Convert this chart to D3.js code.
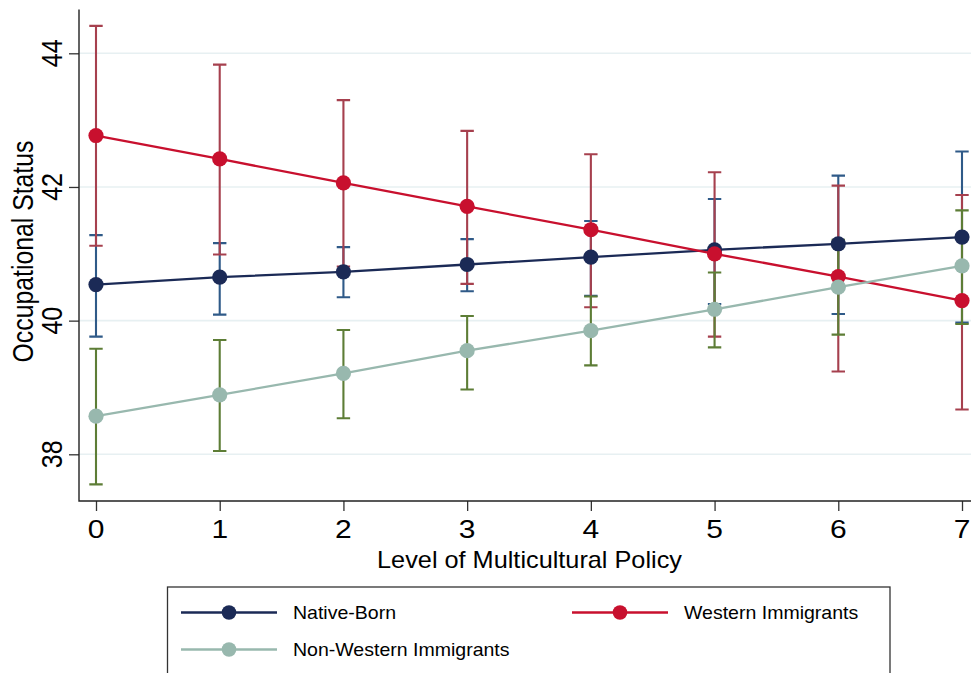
<!DOCTYPE html>
<html>
<head>
<meta charset="utf-8">
<script src="https://cdn.jsdelivr.net/npm/d3@7"></script>
<style>
  html, body { margin: 0; padding: 0; background: #ffffff; }
  svg { display: block; }
  text { font-family: "Liberation Sans", Arimo, Helvetica, Arial, sans-serif; fill: #000; }
</style>
</head>
<body>
<div id="chart"></div>
<script>
// ---- Data ----
const levels = [0, 1, 2, 3, 4, 5, 6, 7];
const xTickLabels = ["0", "1", "2", "3", "4", "5", "6", "7"];
const yTickValues = [38, 40, 42, 44];

const nativeMean = [40.54, 40.65, 40.73, 40.84, 40.95, 41.06, 41.15, 41.25];
const nativeLow  = [39.76, 40.09, 40.35, 40.44, 40.37, 40.25, 40.10, 39.97];
const nativeHigh = [41.28, 41.16, 41.10, 41.22, 41.49, 41.82, 42.17, 42.53];

const westernMean = [42.77, 42.42, 42.06, 41.71, 41.36, 41.00, 40.66, 40.30];
const westernLow  = [41.12, 40.99, 40.81, 40.55, 40.20, 39.76, 39.24, 38.67];
const westernHigh = [44.41, 43.83, 43.30, 42.84, 42.49, 42.22, 42.02, 41.88];

const nonWesternMean = [38.57, 38.89, 39.21, 39.55, 39.85, 40.17, 40.50, 40.82];
const nonWesternLow  = [37.55, 38.05, 38.54, 38.97, 39.33, 39.60, 39.79, 39.95];
const nonWesternHigh = [39.58, 39.71, 39.86, 40.07, 40.36, 40.72, 41.21, 41.65];

const seriesNames = ["Native-Born", "Western Immigrants", "Non-Western Immigrants"];

// ---- Styling ----
const W = 971, H = 673;
const lineColors = ["#1b2a56", "#c8102e", "#98b8ae"];
const ciColors   = ["#2f5a88", "#a6404e", "#5d7d36"];

const series = seriesNames.map((name, i) => ({
  name,
  line: lineColors[i],
  ci: ciColors[i],
  values: levels.map((lv, j) => ({
    x: lv,
    mean: [nativeMean, westernMean, nonWesternMean][i][j],
    lo: [nativeLow, westernLow, nonWesternLow][i][j],
    hi: [nativeHigh, westernHigh, nonWesternHigh][i][j]
  }))
}));

const svg = d3.select("#chart").append("svg")
  .attr("width", W).attr("height", H);

const x = d3.scaleLinear().domain([0, 7]).range([96, 962]);
const y = d3.scaleLinear().domain([38, 44]).range([454.3, 53.3]);

const plotLeft = 79, plotRight = 971, plotTop = 9.5, plotBottom = 501;

// gridlines
svg.append("g").selectAll("line").data(yTickValues).join("line")
  .attr("x1", plotLeft).attr("x2", plotRight)
  .attr("y1", d => y(d)).attr("y2", d => y(d))
  .attr("stroke", "#e7f0f2").attr("stroke-width", 1.6);

// axes (ticks from d3 axis)
const yAxis = svg.append("g").attr("transform", `translate(${plotLeft},0)`)
  .call(d3.axisLeft(y).tickValues(yTickValues).tickSize(10).tickFormat(""));
yAxis.select(".domain").remove();
yAxis.selectAll(".tick line").attr("stroke", "#333").attr("stroke-width", 1.3);

const xAxis = svg.append("g").attr("transform", `translate(0,${plotBottom})`)
  .call(d3.axisBottom(x).tickValues(levels).tickSize(10).tickFormat(""));
xAxis.select(".domain").remove();
xAxis.selectAll(".tick line").attr("stroke", "#333").attr("stroke-width", 1.3);

svg.append("path")
  .attr("d", `M${plotLeft},${plotTop}V${plotBottom}H${plotRight}`)
  .attr("fill", "none").attr("stroke", "#222").attr("stroke-width", 1.4);

// y tick labels (rotated)
svg.append("g").selectAll("text").data(yTickValues).join("text")
  .attr("transform", d => `translate(61.5,${y(d)}) rotate(-90) scale(1,1.2)`)
  .attr("text-anchor", "middle")
  .style("font-size", "25px")
  .text(d => d);

// x tick labels
svg.append("g").selectAll("text").data(levels).join("text")
  .attr("transform", d => `translate(${x(d)},538.3) scale(1.2,1)`)
  .attr("text-anchor", "middle")
  .style("font-size", "25px")
  .text((d, i) => xTickLabels[i]);

// axis titles
svg.append("text")
  .attr("transform", `translate(529.5,568) scale(1.1,1)`)
  .attr("text-anchor", "middle")
  .style("font-size", "23px")
  .text("Level of Multicultural Policy");

svg.append("text")
  .attr("transform", `translate(32.5,251.5) rotate(-90) scale(1,1.2)`)
  .attr("text-anchor", "middle")
  .style("font-size", "24.8px")
  .text("Occupational Status");

// confidence intervals (all series first)
const capHalf = 6.7;
series.forEach(s => {
  const g = svg.append("g").attr("stroke", s.ci).attr("stroke-width", 2.1).attr("fill", "none");
  g.selectAll("path").data(s.values).join("path")
    .attr("d", d => {
      const cx = x(d.x), yl = y(d.lo), yh = y(d.hi);
      return `M${cx},${yh}V${yl}M${cx - capHalf},${yh}H${cx + capHalf}M${cx - capHalf},${yl}H${cx + capHalf}`;
    });
});

// connected lines + markers
const lineGen = d3.line().x(d => x(d.x)).y(d => y(d.mean));
series.forEach(s => {
  svg.append("path").datum(s.values)
    .attr("d", lineGen)
    .attr("fill", "none").attr("stroke", s.line).attr("stroke-width", 2.3);
  svg.append("g").selectAll("circle").data(s.values).join("circle")
    .attr("cx", d => x(d.x)).attr("cy", d => y(d.mean)).attr("r", 7.6)
    .attr("fill", s.line);
});

// legend
const legend = svg.append("g");
legend.append("rect")
  .attr("x", 167.5).attr("y", 587).attr("width", 722.5).attr("height", 100)
  .attr("fill", "#fff").attr("stroke", "#333").attr("stroke-width", 1.3);

const legendItems = [
  { s: series[0], lx: 181, ly: 612.5 },
  { s: series[1], lx: 572, ly: 612.5 },
  { s: series[2], lx: 181, ly: 649.5 }
];
legendItems.forEach(it => {
  const g = legend.append("g");
  g.append("line")
    .attr("x1", it.lx).attr("x2", it.lx + 96)
    .attr("y1", it.ly).attr("y2", it.ly)
    .attr("stroke", it.s.line).attr("stroke-width", 2.3);
  g.append("circle")
    .attr("cx", it.lx + 48).attr("cy", it.ly).attr("r", 7.3)
    .attr("fill", it.s.line);
  g.append("text")
    .attr("transform", `translate(${it.lx + 112},${it.ly + 6.8}) scale(1.085,1)`)
    .style("font-size", "18px")
    .text(it.s.name);
});
</script>
</body>
</html>
